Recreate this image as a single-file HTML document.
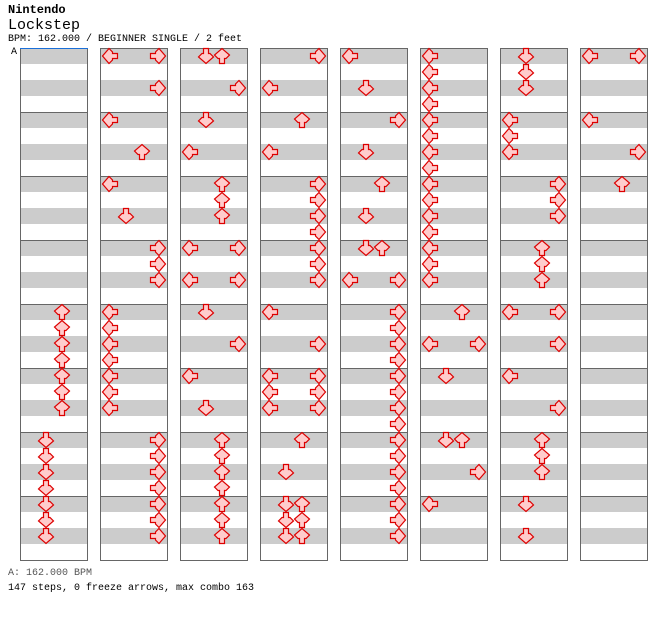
<!DOCTYPE html>
<html><head><meta charset="utf-8">
<style>
html,body{margin:0;padding:0;background:#fff;width:672px;height:620px;overflow:hidden}
.t{position:absolute;left:8px;font-family:"Liberation Mono",monospace;color:#000;white-space:pre}
</style></head><body>
<div class="t" style="top:3px;font-size:12px;font-weight:bold">Nintendo</div>
<div class="t" style="top:17px;font-size:15px">Lockstep</div>
<div class="t" style="top:34px;font-size:10px">BPM: 162.000 / BEGINNER SINGLE / 2 feet</div>
<div class="t" style="top:47px;left:11px;font-size:10px">A</div>
<div class="t" style="top:568px;font-size:10px;color:#555">A: 162.000 BPM</div>
<div class="t" style="top:583px;font-size:10px">147 steps, 0 freeze arrows, max combo 163</div>
<svg id="s" width="672" height="620" style="position:absolute;left:0;top:0" xmlns="http://www.w3.org/2000/svg"></svg>
<script>
var data=[
 {16:[2],17:[2],18:[2],19:[2],20:[2],21:[2],22:[2],24:[1],25:[1],26:[1],27:[1],28:[1],29:[1],30:[1]},
 {0:[0,3],2:[3],4:[0],6:[2],8:[0],10:[1],12:[3],13:[3],14:[3],16:[0],17:[0],18:[0],19:[0],20:[0],21:[0],22:[0],24:[3],25:[3],26:[3],27:[3],28:[3],29:[3],30:[3]},
 {0:[1,2],2:[3],4:[1],6:[0],8:[2],9:[2],10:[2],12:[0,3],14:[0,3],16:[1],18:[3],20:[0],22:[1],24:[2],25:[2],26:[2],27:[2],28:[2],29:[2],30:[2]},
 {0:[3],2:[0],4:[2],6:[0],8:[3],9:[3],10:[3],11:[3],12:[3],13:[3],14:[3],16:[0],18:[3],20:[0,3],21:[0,3],22:[0,3],24:[2],26:[1],28:[1,2],29:[1,2],30:[1,2]},
 {0:[0],2:[1],4:[3],6:[1],8:[2],10:[1],12:[1,2],14:[0,3]},
 {16:[2],18:[0,3],20:[1],24:[1,2],26:[3],28:[0]},
 {0:[1],1:[1],2:[1],4:[0],5:[0],6:[0],8:[3],9:[3],10:[3],12:[2],13:[2],14:[2],16:[0,3],18:[3],20:[0],22:[3],24:[2],25:[2],26:[2],28:[1],30:[1]},
 {0:[0,3],4:[0],6:[3],8:[2]}
];
for(var r=16;r<=30;r++)data[4][r]=[3];
for(var r=0;r<=14;r++)data[5][r]=[0];
var rot=[90,0,180,270];
var h='';
for(var c=0;c<8;c++){
 var x=20+80*c;
 h+='<rect x="'+x+'" y="48" width="68" height="512" fill="#fff"/>';
 for(var m=0;m<8;m++){
  var y=48+64*m;
  h+='<rect x="'+x+'" y="'+y+'" width="68" height="16" fill="#ccc"/>';
  h+='<rect x="'+x+'" y="'+(y+32)+'" width="68" height="16" fill="#ccc"/>';
  h+='<line x1="'+x+'" x2="'+(x+68)+'" y1="'+(y+0.5)+'" y2="'+(y+0.5)+'" stroke="#666"/>';
 }
 h+='<rect x="'+(x+0.5)+'" y="48.5" width="67" height="512" fill="none" stroke="#666"/>';
 var d=data[c];
 for(var k in d){
  var ay=48+16*(+k);
  d[k].forEach(function(l){
   var ax=x+2+16*l;
   h+='<g transform="translate('+ax+','+ay+') rotate('+rot[l]+',8,8)"><path d="M5.5,0.5 H10.5 V5.5 H12 L15.5,9 L8,15.5 L0.5,9 L4,5.5 H5.5 Z" fill="#ffcccc" stroke="#dd0000" stroke-width="1.2"/></g>';
  });
 }
}
h+='<line x1="20" x2="88" y1="48.5" y2="48.5" stroke="#1a6fd8"/>';
document.getElementById('s').innerHTML=h;
</script>
</body></html>
